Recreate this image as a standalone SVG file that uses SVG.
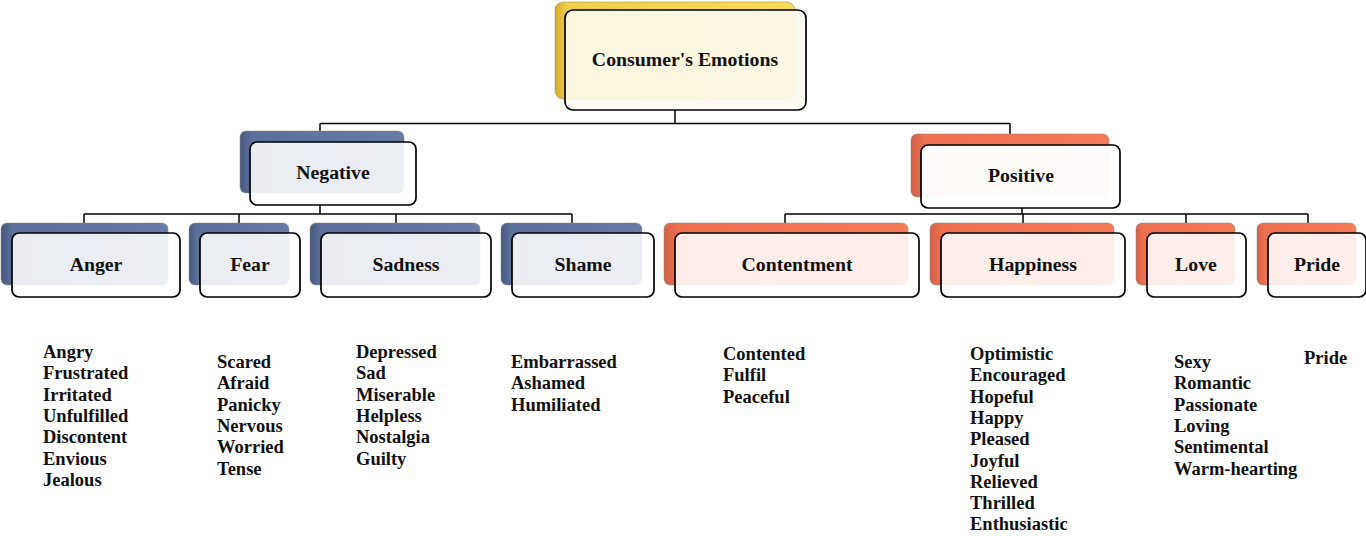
<svg xmlns="http://www.w3.org/2000/svg" width="1366" height="536" viewBox="0 0 1366 536">
<defs>
<linearGradient id="gY" x1="0" y1="0" x2="1" y2="0">
<stop offset="0" stop-color="#d4ad2a"/><stop offset="0.05" stop-color="#efcf45"/><stop offset="1" stop-color="#f7dd55"/>
</linearGradient>
<linearGradient id="gB" x1="0" y1="0" x2="1" y2="0">
<stop offset="0" stop-color="#48597f"/><stop offset="0.07" stop-color="#5b6f9b"/><stop offset="1" stop-color="#677ba6"/>
</linearGradient>
<linearGradient id="gO" x1="0" y1="0" x2="1" y2="0">
<stop offset="0" stop-color="#d36046"/><stop offset="0.07" stop-color="#ee7150"/><stop offset="1" stop-color="#f47a58"/>
</linearGradient>
<style>
.back{stroke:#8a8a8a;stroke-opacity:0.5;stroke-width:1}
.by{fill:url(#gY)}
.bb{fill:url(#gB)}
.bo{fill:url(#gO)}
.front{fill:#ffffff;fill-opacity:0.87;stroke:#000;stroke-width:1.7}
.rt{fill:#fdfaf2;fill-opacity:0.9}
.pos{fill-opacity:0.97}
.lbl{font-family:"Liberation Serif","Times New Roman",serif;font-weight:bold;font-size:19.8px;fill:#111;text-anchor:middle}
.lst{font-family:"Liberation Serif","Times New Roman",serif;font-weight:bold;font-size:18.5px;fill:#111}
.con{fill:none;stroke:#000;stroke-width:1.5}
</style>
</defs>
<g id="connectors" class="con">
<path d="M675 110V123.5M320 123.5H1010M320 123.5V142M1010 123.5V145"/>
<path d="M320 205V214M84 214H572M84 214V223M239 214V223M396 214V223M572 214V223"/>
<path d="M1022 208V214M785 214H1308M785 214V223M1023 214V223M1186 214V223M1308 214V223"/>
</g>
<g id="root">
<rect class="back by" x="555" y="2" width="240" height="97" rx="8"/>
<rect class="front rt" x="565" y="10" width="241" height="100" rx="8"/>
<text class="lbl" x="685" y="66">Consumer's Emotions</text>
</g>
<g id="negative">
<rect class="back bb" x="240" y="131" width="164" height="62" rx="6"/>
<rect class="front" x="250" y="142" width="166" height="63" rx="7"/>
<text class="lbl" x="333" y="179">Negative</text>
</g>
<g id="positive">
<rect class="back bo" x="911" y="134" width="198" height="63" rx="6"/>
<rect class="front pos" x="921" y="145" width="199" height="63" rx="7"/>
<text class="lbl" x="1021" y="182">Positive</text>
</g>
<g id="anger">
<rect class="back bb" x="1" y="223" width="167" height="62" rx="6"/>
<rect class="front" x="12" y="233" width="168" height="64" rx="7"/>
<text class="lbl" x="96" y="271">Anger</text>
</g>
<g id="fear">
<rect class="back bb" x="189" y="223" width="100" height="62" rx="6"/>
<rect class="front" x="200" y="233" width="100" height="64" rx="7"/>
<text class="lbl" x="250" y="271">Fear</text>
</g>
<g id="sadness">
<rect class="back bb" x="310" y="223" width="170" height="62" rx="6"/>
<rect class="front" x="321" y="233" width="170" height="64" rx="7"/>
<text class="lbl" x="406" y="271">Sadness</text>
</g>
<g id="shame">
<rect class="back bb" x="501" y="223" width="141" height="62" rx="6"/>
<rect class="front" x="512" y="233" width="142" height="64" rx="7"/>
<text class="lbl" x="583" y="271">Shame</text>
</g>
<g id="contentment">
<rect class="back bo" x="664" y="223" width="244" height="62" rx="6"/>
<rect class="front" x="675" y="233" width="244" height="64" rx="7"/>
<text class="lbl" x="797" y="271">Contentment</text>
</g>
<g id="happiness">
<rect class="back bo" x="930" y="223" width="184" height="62" rx="6"/>
<rect class="front" x="941" y="233" width="184" height="64" rx="7"/>
<text class="lbl" x="1033" y="271">Happiness</text>
</g>
<g id="love">
<rect class="back bo" x="1136" y="223" width="99" height="62" rx="6"/>
<rect class="front" x="1147" y="233" width="99" height="64" rx="7"/>
<text class="lbl" x="1196" y="271">Love</text>
</g>
<g id="pride">
<rect class="back bo" x="1257" y="223" width="99" height="62" rx="6"/>
<rect class="front" x="1268" y="233" width="98" height="64" rx="7"/>
<text class="lbl" x="1317" y="271">Pride</text>
</g>
<g id="lists" class="lst">
<text x="43" y="358">Angry</text>
<text x="43" y="379.3">Frustrated</text>
<text x="43" y="400.6">Irritated</text>
<text x="43" y="421.9">Unfulfilled</text>
<text x="43" y="443.2">Discontent</text>
<text x="43" y="464.5">Envious</text>
<text x="43" y="485.8">Jealous</text>
<text x="217" y="368">Scared</text>
<text x="217" y="389.3">Afraid</text>
<text x="217" y="410.6">Panicky</text>
<text x="217" y="431.9">Nervous</text>
<text x="217" y="453.2">Worried</text>
<text x="217" y="474.5">Tense</text>
<text x="356" y="358">Depressed</text>
<text x="356" y="379.3">Sad</text>
<text x="356" y="400.6">Miserable</text>
<text x="356" y="421.9">Helpless</text>
<text x="356" y="443.2">Nostalgia</text>
<text x="356" y="464.5">Guilty</text>
<text x="511" y="368">Embarrassed</text>
<text x="511" y="389.3">Ashamed</text>
<text x="511" y="410.6">Humiliated</text>
<text x="723" y="360">Contented</text>
<text x="723" y="381.3">Fulfil</text>
<text x="723" y="402.6">Peaceful</text>
<text x="970" y="360">Optimistic</text>
<text x="970" y="381.3">Encouraged</text>
<text x="970" y="402.6">Hopeful</text>
<text x="970" y="423.9">Happy</text>
<text x="970" y="445.2">Pleased</text>
<text x="970" y="466.5">Joyful</text>
<text x="970" y="487.8">Relieved</text>
<text x="970" y="509.1">Thrilled</text>
<text x="970" y="530.4">Enthusiastic</text>
<text x="1174" y="368">Sexy</text>
<text x="1174" y="389.3">Romantic</text>
<text x="1174" y="410.6">Passionate</text>
<text x="1174" y="431.9">Loving</text>
<text x="1174" y="453.2">Sentimental</text>
<text x="1174" y="474.5">Warm-hearting</text>
<text x="1304" y="364">Pride</text>
</g>
</svg>
